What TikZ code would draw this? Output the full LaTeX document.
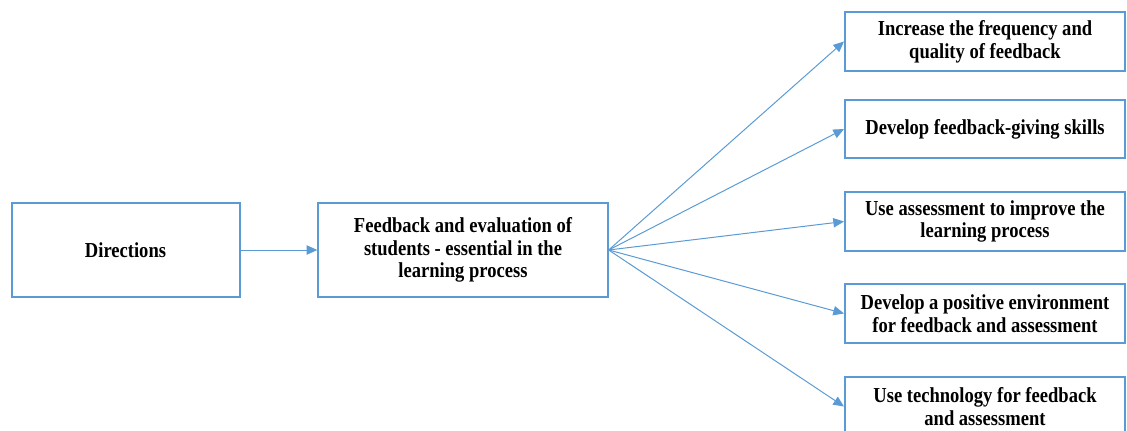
\documentclass[tikz,border=0pt]{standalone}
\usepackage{fontspec}
\setmainfont{Liberation Serif}[FakeStretch=0.87]
\usetikzlibrary{arrows.meta}
\definecolor{boxblue}{HTML}{5B9BD5}
\tikzset{
  box/.style={draw=boxblue, line width=1.5pt, align=center, inner sep=2pt,
    font=\fontsize{16}{17}\selectfont\bfseries},
  aim/.style={box, minimum width=210pt, minimum height=44pt},
  arr/.style={draw=boxblue, line width=0.75pt, -{Triangle[length=8pt,width=7pt]}}
}
\begin{document}
\begin{tikzpicture}[x=0.75pt, y=-0.75pt]
    \useasboundingbox (0,0) rectangle (1127,431);

    % Starting boxes
    \node[box, minimum width=171pt, minimum height=70pt] (dir) at (125.5,250) {Directions};
    \node[box, minimum width=217pt, minimum height=70pt] (fb) at (463,250)
        {Feedback and evaluation of\\ students - essential in the\\ learning process};
    \draw[arr] (dir.east) -- (fb.west);

    % Directions on the right, one arrow each
    \foreach \n/\y/\t in {
        freq/41.5/{Increase the frequency and\\ quality of feedback},
        skill/129/{Develop feedback-giving skills},
        assess/221.5/{Use assessment to improve the\\ learning process},
        env/313.5/{Develop a positive environment\\ for feedback and assessment},
        tech/406.5/{Use technology for feedback\\ and assessment}} {
        \node[aim] (\n) at (985,\y) {\t};
        \draw[arr] (fb.east) -- (\n.west);
    }
\end{tikzpicture}
\end{document}
